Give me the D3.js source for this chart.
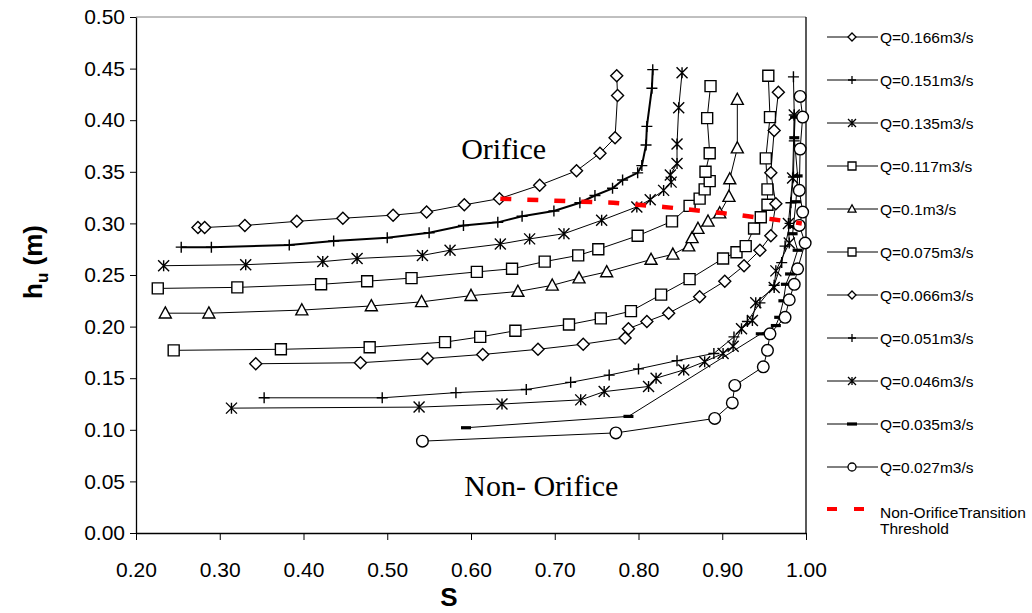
<!DOCTYPE html>
<html lang="en">
<head>
<meta charset="utf-8">
<title>hu vs S</title>
<script src="https://cdn.jsdelivr.net/npm/d3@7"></script>
<style>
  body { margin: 0; background: #fff; }
  text { font-family: "Liberation Sans", Arial, sans-serif; }
  text.serif { font-family: "Liberation Serif", "Times New Roman", serif; }
</style>
</head>
<body>
<div id="chart"></div>
<script>

// ---- data (S, hu) ----
var q166 = [[0.274,0.296],[0.282,0.296],[0.330,0.298],[0.392,0.302],[0.447,0.305],[0.507,0.308],[0.547,0.311],[0.592,0.318],[0.634,0.324],[0.682,0.337],[0.726,0.351],[0.754,0.368],[0.772,0.383],[0.775,0.424],[0.774,0.443]];
var q151 = [[0.254,0.277],[0.290,0.277],[0.383,0.279],[0.436,0.283],[0.500,0.286],[0.550,0.291],[0.591,0.298],[0.632,0.301],[0.661,0.307],[0.699,0.312],[0.730,0.320],[0.748,0.327],[0.769,0.334],[0.781,0.342],[0.799,0.349],[0.804,0.356],[0.809,0.376],[0.810,0.394],[0.816,0.431],[0.817,0.449]];
var q135 = [[0.233,0.259],[0.331,0.260],[0.423,0.263],[0.464,0.266],[0.542,0.269],[0.575,0.274],[0.635,0.280],[0.670,0.285],[0.711,0.290],[0.756,0.303],[0.798,0.316],[0.814,0.323],[0.830,0.332],[0.839,0.340],[0.838,0.347],[0.846,0.358],[0.846,0.377],[0.848,0.412],[0.852,0.446]];
var q117 = [[0.226,0.237],[0.321,0.238],[0.421,0.241],[0.476,0.244],[0.529,0.247],[0.607,0.253],[0.649,0.256],[0.688,0.263],[0.728,0.269],[0.752,0.275],[0.799,0.288],[0.840,0.302],[0.861,0.317],[0.873,0.324],[0.879,0.333],[0.885,0.341],[0.880,0.350],[0.885,0.368],[0.882,0.402],[0.886,0.433]];
var q100 = [[0.235,0.213],[0.287,0.213],[0.398,0.216],[0.481,0.220],[0.541,0.224],[0.600,0.230],[0.656,0.234],[0.697,0.240],[0.729,0.247],[0.762,0.253],[0.815,0.265],[0.841,0.270],[0.860,0.278],[0.864,0.286],[0.871,0.295],[0.883,0.302],[0.897,0.310],[0.908,0.326],[0.909,0.343],[0.918,0.373],[0.918,0.420]];
var q075 = [[0.245,0.177],[0.373,0.178],[0.479,0.180],[0.569,0.185],[0.611,0.190],[0.653,0.196],[0.717,0.202],[0.755,0.208],[0.791,0.215],[0.827,0.231],[0.861,0.246],[0.901,0.266],[0.917,0.272],[0.928,0.278],[0.938,0.295],[0.946,0.306],[0.954,0.318],[0.954,0.333],[0.952,0.363],[0.957,0.403],[0.955,0.443]];
var q066 = [[0.343,0.164],[0.468,0.165],[0.548,0.169],[0.614,0.173],[0.680,0.178],[0.734,0.183],[0.784,0.189],[0.788,0.198],[0.810,0.205],[0.836,0.213],[0.873,0.229],[0.903,0.244],[0.926,0.259],[0.945,0.274],[0.958,0.288],[0.964,0.319],[0.958,0.349],[0.962,0.390],[0.967,0.427]];
var q051 = [[0.353,0.131],[0.494,0.131],[0.582,0.136],[0.666,0.139],[0.719,0.146],[0.765,0.153],[0.800,0.159],[0.846,0.167],[0.890,0.174],[0.914,0.190],[0.930,0.205],[0.945,0.223],[0.962,0.240],[0.971,0.262],[0.975,0.278],[0.981,0.300],[0.982,0.320],[0.985,0.345],[0.986,0.380],[0.986,0.405],[0.985,0.442]];
var q046 = [[0.314,0.121],[0.538,0.122],[0.637,0.125],[0.731,0.129],[0.759,0.137],[0.812,0.142],[0.821,0.150],[0.854,0.158],[0.879,0.166],[0.901,0.174],[0.913,0.181],[0.923,0.198],[0.936,0.206],[0.940,0.223],[0.962,0.238],[0.964,0.254],[0.980,0.281],[0.979,0.300],[0.984,0.344],[0.986,0.405]];
var q035 = [[0.594,0.102],[0.788,0.113],[0.946,0.193],[0.964,0.201],[0.968,0.209],[0.973,0.225],[0.976,0.241],[0.981,0.251],[0.990,0.274],[0.984,0.290],[0.985,0.297],[0.988,0.321],[0.990,0.346],[0.986,0.383],[0.987,0.403]];
var q027 = [[0.542,0.089],[0.773,0.097],[0.891,0.111],[0.912,0.126],[0.915,0.143],[0.949,0.161],[0.954,0.177],[0.957,0.193],[0.975,0.209],[0.980,0.226],[0.986,0.241],[0.990,0.256],[0.999,0.281],[0.992,0.298],[0.996,0.311],[0.992,0.332],[0.993,0.372],[0.996,0.403],[0.993,0.423]];

// transition threshold (red dashed)
var thrS = [0.635, 0.700, 0.770, 0.830, 0.900, 0.960, 0.995];
var thrH = [0.324, 0.322, 0.320, 0.316, 0.310, 0.304, 0.300];

var seriesNames = ["Q=0.166m3/s","Q=0.151m3/s","Q=0.135m3/s","Q=0.117m3/s","Q=0.1m3/s","Q=0.075m3/s","Q=0.066m3/s","Q=0.051m3/s","Q=0.046m3/s","Q=0.035m3/s","Q=0.027m3/s"];
var seriesData = [q166, q151, q135, q117, q100, q075, q066, q051, q046, q035, q027];
var markerKinds = ["diamond","plus","star","square","triangle","square","diamond","plus","star","dash","circle"];

var xTicks = [0.2,0.3,0.4,0.5,0.6,0.7,0.8,0.9,1.0];
var yTicks = [0,0.05,0.1,0.15,0.2,0.25,0.3,0.35,0.4,0.45,0.5];

// ---- canvas ----
var w = 1032, h = 613;
var svg = d3.select("#chart").append("svg")
	.attr("width", w)
	.attr("height", h);

var x = d3.scaleLinear().domain([0.2, 1.0]).range([136, 806]);
var y = d3.scaleLinear().domain([0, 0.5]).range([533, 17]);

// plot border (top / right)
svg.append("line").attr("x1", x(0.2)).attr("x2", x(1.0)).attr("y1", y(0.5)).attr("y2", y(0.5))
	.attr("stroke", "#808080").attr("stroke-width", 1);
svg.append("line").attr("x1", x(1.0)).attr("x2", x(1.0)).attr("y1", y(0.5)).attr("y2", y(0))
	.attr("stroke", "#000").attr("stroke-width", 1.3);

// axes
var yAxis = svg.append("g")
	.attr("transform", "translate(" + x(0.2) + ",0)")
	.call(d3.axisLeft(y).tickValues(yTicks).tickFormat(d3.format(".2f")).tickSize(6).tickSizeOuter(0).tickPadding(5));
var xAxis = svg.append("g")
	.attr("transform", "translate(0," + y(0) + ")")
	.call(d3.axisBottom(x).tickValues(xTicks).tickFormat(d3.format(".2f")).tickSize(7).tickSizeOuter(0).tickPadding(22));

svg.selectAll(".domain").attr("stroke", "#000").attr("stroke-width", 1.3);
svg.selectAll(".tick line").attr("stroke", "#000");
svg.selectAll(".tick text").attr("font-size", 21).attr("fill", "#000");

// axis titles
svg.append("text")
	.attr("x", 449).attr("y", 606)
	.attr("text-anchor", "middle")
	.attr("font-size", 26).attr("font-weight", "bold")
	.text("S");

var yt = svg.append("text")
	.attr("transform", "translate(42,262) rotate(-90)")
	.attr("text-anchor", "middle")
	.attr("font-size", 26).attr("font-weight", "bold");
yt.append("tspan").text("h");
yt.append("tspan").attr("font-size", 17).attr("dy", 6).text("u");
yt.append("tspan").attr("dy", -6).text(" (m)");

// region labels
svg.append("text").attr("class", "serif")
	.attr("x", x(0.639)).attr("y", y(0.362))
	.attr("text-anchor", "middle").attr("font-size", 30)
	.text("Orifice");
svg.append("text").attr("class", "serif")
	.attr("x", x(0.684)).attr("y", y(0.036))
	.attr("text-anchor", "middle").attr("font-size", 30)
	.text("Non- Orifice");

// marker shapes
function markerPath(kind, r) {
	switch (kind) {
		case "diamond": return "M0," + (-r) + "L" + r + ",0L0," + r + "L" + (-r) + ",0Z";
		case "square": return "M" + (-r) + "," + (-r) + "H" + r + "V" + r + "H" + (-r) + "Z";
		case "triangle": return "M0," + (-r * 1.05) + "L" + r + "," + (r * 0.8) + "L" + (-r) + "," + (r * 0.8) + "Z";
		case "circle": return "M" + r + ",0A" + r + "," + r + " 0 1,1 " + (-r) + ",0A" + r + "," + r + " 0 1,1 " + r + ",0Z";
		case "star": return "M" + (-r) + "," + (-r) + "L" + r + "," + r + "M" + (-r) + "," + r + "L" + r + "," + (-r) + "M0," + (-r) + "V" + r;
		case "plus": return "M" + (-r) + ",0H" + r + "M0," + (-r) + "V" + r;
		case "dash": return "M" + (-r) + ",-1.6H" + r + "V1.6H" + (-r) + "Z";
	}
}
var markerSize = { diamond: 6, square: 5.5, triangle: 6, circle: 5.8, star: 5.5, plus: 5.5, dash: 5 };

var line = d3.line()
	.x(function(d) { return x(d[0]); })
	.y(function(d) { return y(d[1]); });

var thr = thrS.map(function(s, i) { return [s, thrH[i]]; });

seriesData.forEach(function(data, i) {
	var kind = markerKinds[i];
	var g = svg.append("g").attr("class", "series");
	g.append("path")
		.datum(data)
		.attr("d", line)
		.attr("fill", "none")
		.attr("stroke", "#000")
		.attr("stroke-width", i == 1 ? 2 : 1);
	g.selectAll("path.mk")
		.data(data)
		.enter()
		.append("path")
		.attr("class", "mk")
		.attr("transform", function(d) { return "translate(" + x(d[0]) + "," + y(d[1]) + ")"; })
		.attr("d", markerPath(kind, markerSize[kind]))
		.attr("fill", kind == "dash" ? "#000" : (kind == "star" || kind == "plus") ? "none" : "#fff")
		.attr("stroke", "#000")
		.attr("stroke-width", kind == "dash" ? 0 : 1.4);
});

svg.append("path")
	.datum(thr)
	.attr("d", line)
	.attr("fill", "none")
	.attr("stroke", "#ff0000")
	.attr("stroke-width", 4.5)
	.attr("stroke-dasharray", "11,16");

// ---- legend ----
var legend = svg.append("g").attr("class", "legend");
seriesNames.forEach(function(name, i) {
	var ly = 37 + i * 43;
	var kind = markerKinds[i];
	legend.append("line")
		.attr("x1", 827).attr("x2", 878).attr("y1", ly).attr("y2", ly)
		.attr("stroke", "#000").attr("stroke-width", 1);
	legend.append("path")
		.attr("transform", "translate(852," + ly + ")")
		.attr("d", markerPath(kind, kind == "dash" ? 5 : 4))
		.attr("fill", kind == "dash" ? "#000" : (kind == "star" || kind == "plus") ? "none" : "#fff")
		.attr("stroke", "#000")
		.attr("stroke-width", kind == "dash" ? 0 : 1.3);
	legend.append("text")
		.attr("x", 880).attr("y", ly)
		.attr("dy", "0.36em")
		.attr("font-size", 15.5)
		.text(name);
});
legend.append("line")
	.attr("x1", 827).attr("x2", 866).attr("y1", 509).attr("y2", 509)
	.attr("stroke", "#ff0000").attr("stroke-width", 4)
	.attr("stroke-dasharray", "10,17");
legend.append("text").attr("x", 880).attr("y", 512).attr("dy", "0.36em")
	.attr("font-size", 15.5).text("Non-OrificeTransition");
legend.append("text").attr("x", 880).attr("y", 528).attr("dy", "0.36em")
	.attr("font-size", 15.5).text("Threshold");

</script>
</body>
</html>
